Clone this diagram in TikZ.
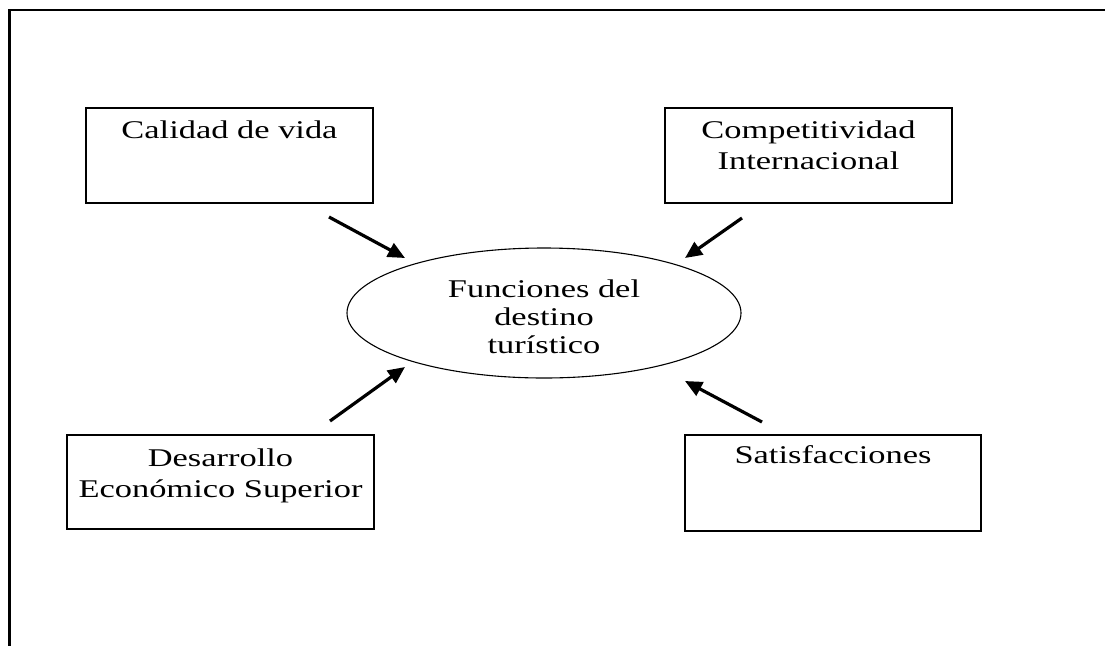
\documentclass[tikz,border=0pt]{standalone}
\usepackage{fontspec}
\setmainfont{Liberation Serif}[FakeStretch=1.35]
\usetikzlibrary{shapes.geometric,arrows.meta}
\tikzset{
  frameline/.style={line width=2.4pt},
  boxnode/.style={draw, line width=1.4pt, inner sep=0pt, outer sep=0pt, font=\fontsize{25.5}{31}\selectfont},
  hub/.style={draw, ellipse, line width=1.1pt, minimum width=394pt, minimum height=130pt, inner sep=0pt, align=center, font=\fontsize{25.5}{28}\selectfont},
  arr/.style={line width=3.2pt, -{Triangle[length=17pt,width=15pt]}},
}
\newcommand{\boxtext}[4]{\parbox[c][#2][t]{#1}{\centering\vspace*{#3}\rule{0pt}{18pt}#4\par}}
\begin{document}
\begin{tikzpicture}[x=1pt,y=-1pt]
\useasboundingbox (0,0) rectangle (1105,646);
% frame
\coordinate (tl) at (9.5,10);
\coordinate (tr) at (1105,10);
\coordinate (bl) at (9.5,646);
\draw[frameline] (tr) -- (tl) -- (bl);
% boxes
\node[boxnode] (b1) at (229.5,155.5) {\boxtext{287pt}{95pt}{12pt}{Calidad de vida}};
\node[boxnode] (b2) at (808.5,155.5) {\boxtext{287pt}{95pt}{12pt}{Competitividad\\Internacional}};
\node[boxnode] (b3) at (220.5,482) {\boxtext{307pt}{94pt}{13pt}{Desarrollo\\Económico Superior}};
\node[boxnode] (b4) at (833,483) {\boxtext{296pt}{96pt}{10pt}{Satisfacciones}};
% hub
\node[hub] (hub) at (544,313) {\rule{0pt}{25.5pt}Funciones del\\destino\\turístico};
% arrows
\coordinate (t1) at (329,217);  \coordinate (h1) at (405,258);
\coordinate (t2) at (742,218);  \coordinate (h2) at (685,258);
\coordinate (t3) at (330,421);  \coordinate (h3) at (405,367);
\coordinate (t4) at (762,422);  \coordinate (h4) at (685,381);
\draw[arr] (t1) -- (h1);
\draw[arr] (t2) -- (h2);
\draw[arr] (t3) -- (h3);
\draw[arr] (t4) -- (h4);
\end{tikzpicture}
\end{document}
